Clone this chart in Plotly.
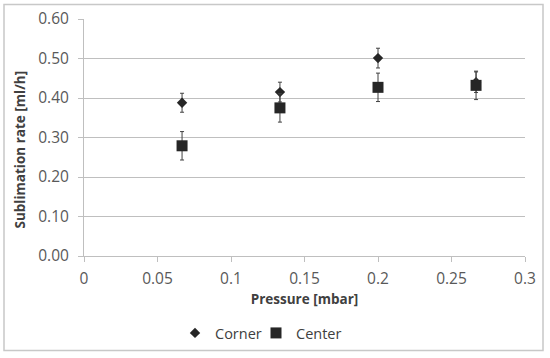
import plotly.graph_objects as go

pressure = [0.0667, 0.1333, 0.2, 0.2667]
corner = [0.388, 0.415, 0.501, 0.440]
corner_err = [0.024, 0.025, 0.025, 0.026]
center = [0.279, 0.375, 0.427, 0.432]
center_err = [0.036, 0.036, 0.036, 0.036]

W, H = 550, 358
L, R, T, B = 84, 25, 19, 102
pw, ph = W - L - R, H - T - B

def px(x):
    return (x - L) / pw

def py(y):
    return (H - B - y) / ph

TITLE_FONT = dict(family="Open Sans", size=13.5, color="#404040")
LEG_FONT = dict(family="Open Sans", size=14.5, color="#404040")

fig = go.Figure()
fig.add_trace(go.Scatter(
    x=pressure, y=corner, mode="markers", name="Corner", legend="legend",
    marker=dict(symbol="diamond", size=8, color="#262626"),
    error_y=dict(type="data", array=corner_err, color="#404040", thickness=1, width=2),
))
fig.add_trace(go.Scatter(
    x=pressure, y=center, mode="markers", name="Center", legend="legend2",
    marker=dict(symbol="square", size=11, color="#262626"),
    error_y=dict(type="data", array=center_err, color="#404040", thickness=1, width=2),
))

fig.update_layout(
    width=W, height=H,
    margin=dict(l=L, r=R, t=T, b=B, autoexpand=False),
    paper_bgcolor="white", plot_bgcolor="white",
    font=dict(family="Open Sans", size=15.5, color="#595959"),
    showlegend=True,
    legend=dict(orientation="h", x=px(175), xanchor="left", y=py(333), yanchor="middle",
                font=LEG_FONT, itemsizing="trace", bgcolor="rgba(0,0,0,0)"),
    legend2=dict(orientation="h", x=px(256), xanchor="left", y=py(333), yanchor="middle",
                 font=LEG_FONT, itemsizing="trace", bgcolor="rgba(0,0,0,0)"),
    shapes=[dict(type="rect", xref="paper", yref="paper",
                 x0=px(4), x1=px(543), y0=py(350.5), y1=py(4.5),
                 line=dict(color="#c8c8c8", width=1.5), layer="below")],
    annotations=[dict(text="<b>Sublimation rate [ml/h]</b>", textangle=-90,
                      xref="paper", yref="paper", x=px(19.5), y=py(150),
                      xanchor="center", yanchor="middle", showarrow=False,
                      font=TITLE_FONT)],
)

fig.update_xaxes(
    range=[0, 0.3], tickvals=[0, 0.05, 0.1, 0.15, 0.2, 0.25, 0.3],
    ticktext=["0", "0.05", "0.1", "0.15", "0.2", "0.25", "0.3"],
    showgrid=False, zeroline=False, showline=True, linecolor="#bfbfbf", linewidth=1,
    ticks="outside", ticklen=5, tickcolor="#bfbfbf", ticklabelstandoff=3,
    title=dict(text="<b>Pressure [mbar]</b>", font=TITLE_FONT, standoff=6),
)
fig.update_yaxes(
    range=[0, 0.6], dtick=0.1, tickformat=".2f",
    showgrid=True, gridcolor="#bfbfbf", gridwidth=1,
    zeroline=False, showline=True, linecolor="#bfbfbf", linewidth=1,
    ticks="outside", ticklen=5, tickcolor="#bfbfbf", ticklabelstandoff=6,
)

fig.write_html("out.html", config={"displayModeBar": False},
               post_script="document.body.style.margin='0';")
